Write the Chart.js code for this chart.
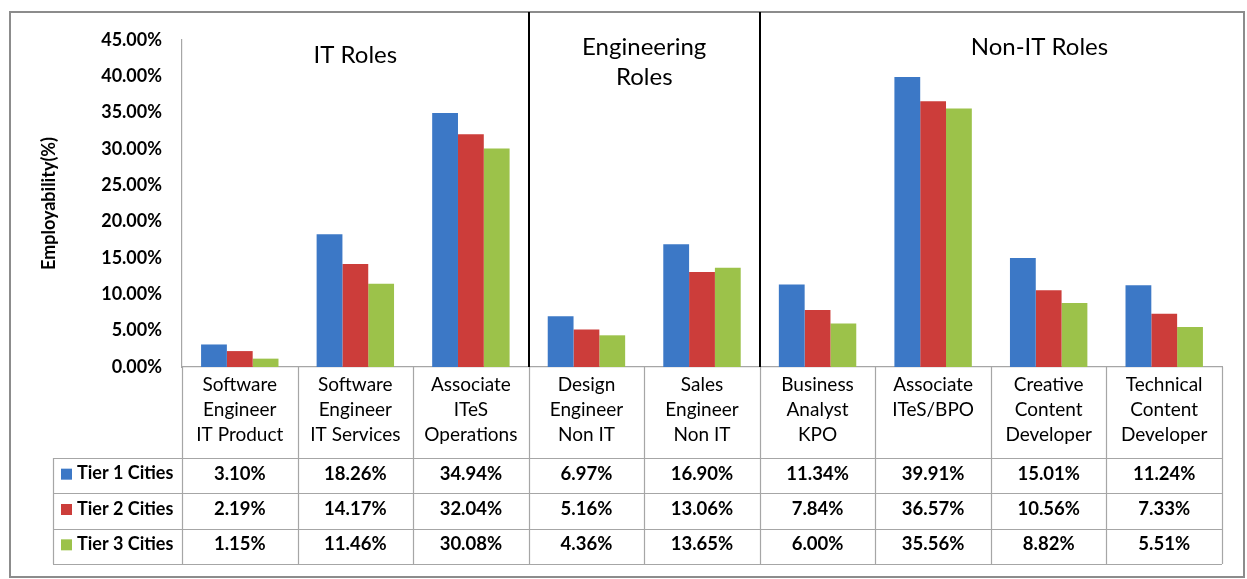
<!DOCTYPE html>
<html>
<head>
<meta charset="utf-8">
<script src="https://cdn.jsdelivr.net/npm/chart.js@4.4.1/dist/chart.umd.min.js"></script>
<style>
  body { margin: 0; background: #fff; }
  #wrap { width: 1247px; height: 579px; }
</style>
</head>
<body>
<div id="wrap"><canvas id="myChart" width="1247" height="579"></canvas></div>
<script>
// data
var categories = [
  ["Software", "Engineer", "IT Product"],
  ["Software", "Engineer", "IT Services"],
  ["Associate", "ITeS", "Operations"],
  ["Design", "Engineer", "Non IT"],
  ["Sales", "Engineer", "Non IT"],
  ["Business", "Analyst", "KPO"],
  ["Associate", "ITeS/BPO"],
  ["Creative", "Content", "Developer"],
  ["Technical", "Content", "Developer"]
];
var seriesNames = ["Tier 1 Cities", "Tier 2 Cities", "Tier 3 Cities"];
var tier1 = [3.10, 18.26, 34.94, 6.97, 16.90, 11.34, 39.91, 15.01, 11.24];
var tier2 = [2.19, 14.17, 32.04, 5.16, 13.06, 7.84, 36.57, 10.56, 7.33];
var tier3 = [1.15, 11.46, 30.08, 4.36, 13.65, 6.00, 35.56, 8.82, 5.51];
var seriesColors = ["#3c78c6", "#cc3d3a", "#9cc24a"];
var yMax = 45, yStep = 5;
// role groups: title lines, and the category index the title sits over
var groupTitles = [["IT Roles"], ["Engineering", "Roles"], ["Non-IT Roles"]];
var groupCenters = [1, 3.5, 6.92];
var groupTitleY = [55, 47, 47];
var separatorsAfter = [2, 4];

var FONT = "Lato, 'Open Sans', sans-serif";
var allSeries = [tier1, tier2, tier3];

var tablePlugin = {
  id: "dataTable",
  afterDraw: function(chart) {
    var c = chart.ctx, x = chart.scales.x, area = chart.chartArea;
    var n = categories.length;
    var step = x.getPixelForValue(1) - x.getPixelForValue(0);
    var left = area.left, right = area.right, bottom = area.bottom;
    var tableTop = bottom + 91, tableBottom = x.bottom;
    var rowH = (tableBottom - tableTop) / 3;
    var legendLeft = 53;
    c.save();

    // outer frame
    c.strokeStyle = "#8c8c8c";
    c.lineWidth = 2;
    c.strokeRect(10, 12, 1234, 565);

    // table grid
    c.strokeStyle = "#a6a6a6";
    c.lineWidth = 1.2;
    c.beginPath();
    for (var i = 0; i <= n; i++) {
      var bx = Math.round(left + i * step) + 0.5;
      c.moveTo(bx, bottom);
      c.lineTo(bx, tableBottom);
    }
    c.moveTo(legendLeft + 0.5, tableTop);
    c.lineTo(legendLeft + 0.5, tableBottom);
    for (var r = 0; r <= 3; r++) {
      var ry = Math.round(tableTop + r * rowH) + 0.5;
      c.moveTo(legendLeft, ry);
      c.lineTo(right, ry);
    }
    c.stroke();

    // table values and legend keys
    c.fillStyle = "#000";
    c.textBaseline = "middle";
    for (var s = 0; s < 3; s++) {
      var cy = tableTop + (s + 0.5) * rowH - 2;
      c.fillStyle = seriesColors[s];
      c.fillRect(61, cy - 5, 11, 11);
      c.fillStyle = "#000";
      c.textAlign = "left";
      c.font = "bold 18px " + FONT;
      c.fillText(seriesNames[s], 77, cy);
      c.textAlign = "center";
      c.font = "bold 18.5px " + FONT;
      for (var k = 0; k < n; k++) {
        c.fillText(allSeries[s][k].toFixed(2) + "%", x.getPixelForValue(k), cy);
      }
    }

    // group separators
    c.strokeStyle = "#000";
    c.lineWidth = 2;
    c.beginPath();
    separatorsAfter.forEach(function(idx) {
      var sx = Math.round(left + (idx + 1) * step);
      c.moveTo(sx, 12);
      c.lineTo(sx, bottom);
    });
    c.stroke();

    // group titles
    c.font = "24px " + FONT;
    c.textAlign = "center";
    groupTitles.forEach(function(lines, g) {
      var gx = left + (groupCenters[g] + 0.5) * step;
      lines.forEach(function(t, li) {
        c.fillText(t, gx, groupTitleY[g] + li * 30);
      });
    });
    c.restore();
  }
};

var ctx = document.getElementById("myChart").getContext("2d");
var myChart = new Chart(ctx, {
  type: "bar",
  data: {
    labels: categories,
    datasets: [
      { label: seriesNames[0], data: tier1, backgroundColor: seriesColors[0] },
      { label: seriesNames[1], data: tier2, backgroundColor: seriesColors[1] },
      { label: seriesNames[2], data: tier3, backgroundColor: seriesColors[2] }
    ]
  },
  options: {
    responsive: false,
    animation: false,
    layout: { padding: { left: 38, top: 40, right: 25, bottom: 15 } },
    datasets: { bar: { categoryPercentage: 0.67, barPercentage: 1 } },
    plugins: { legend: { display: false }, tooltip: { enabled: false } },
    scales: {
      x: {
        grid: { display: false, drawTicks: false },
        border: { display: true, color: "#a6a6a6", width: 1.2 },
        ticks: {
          autoSkip: false, maxRotation: 0, padding: 5, color: "#000",
          font: { family: FONT, size: 19, lineHeight: 1.32 }
        },
        afterFit: function(s) { s.height = 197; }
      },
      y: {
        min: 0, max: yMax,
        grid: { display: false, drawTicks: false },
        border: { display: true, color: "#a6a6a6", width: 1.2 },
        ticks: {
          stepSize: yStep, padding: 20, color: "#000",
          font: { family: FONT, size: 18, weight: "bold" },
          callback: function(v) { return v.toFixed(2) + "%"; }
        },
        title: {
          display: true, text: "Employability(%)", color: "#000", padding: 0,
          font: { family: FONT, size: 18, weight: "bold" }
        },
        afterFit: function(s) { s.width = 144; }
      }
    }
  },
  plugins: [tablePlugin]
});
</script>
</body>
</html>
